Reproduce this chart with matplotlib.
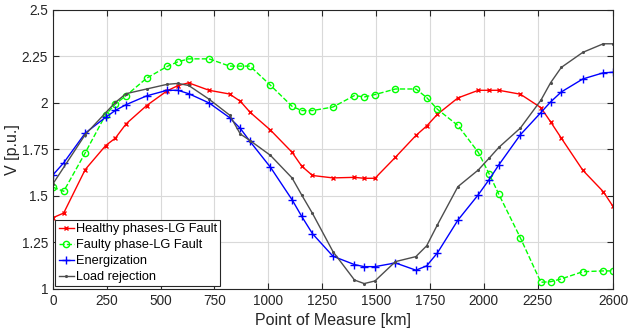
import numpy as np
import matplotlib
matplotlib.use("Agg")
import matplotlib.pyplot as plt

plt.rcParams["font.family"] = ["Liberation Sans", "DejaVu Sans"]

# measurement points [km]
x_pts = [0, 50, 150, 245, 290, 340, 435, 530, 580, 630, 725, 820, 870, 915,
         1010, 1110, 1155, 1205, 1300, 1400, 1445, 1495, 1590, 1685, 1735,
         1785, 1880, 1975, 2025, 2070, 2170, 2265, 2310, 2360, 2460, 2555, 2600]

healthy = [1.383, 1.408, 1.642, 1.771, 1.811, 1.888, 1.986, 2.065, 2.093, 2.108,
           2.068, 2.048, 2.009, 1.950, 1.854, 1.735, 1.660, 1.610, 1.597, 1.600,
           1.595, 1.595, 1.708, 1.825, 1.876, 1.939, 2.027, 2.068, 2.068, 2.068,
           2.047, 1.975, 1.899, 1.811, 1.638, 1.523, 1.444]

faulty = [1.547, 1.525, 1.732, 1.937, 1.994, 2.040, 2.133, 2.196, 2.221, 2.237,
          2.237, 2.198, 2.198, 2.198, 2.095, 1.982, 1.959, 1.959, 1.978, 2.040,
          2.032, 2.045, 2.075, 2.075, 2.029, 1.966, 1.879, 1.734, 1.619, 1.509,
          1.275, 1.036, 1.039, 1.054, 1.093, 1.097, 1.097]

energ = [1.613, 1.678, 1.838, 1.923, 1.960, 1.991, 2.038, 2.068, 2.068, 2.050,
         2.000, 1.921, 1.863, 1.793, 1.654, 1.480, 1.390, 1.297, 1.176, 1.131,
         1.120, 1.120, 1.140, 1.101, 1.124, 1.194, 1.370, 1.507, 1.588, 1.667,
         1.829, 1.948, 2.005, 2.059, 2.129, 2.162, 2.165]

x_load = [0, 150, 290, 340, 435, 530, 580, 630, 725, 820, 870, 915, 1010, 1110,
          1155, 1205, 1300, 1400, 1445, 1495, 1590, 1685, 1735, 1785, 1880,
          1975, 2025, 2070, 2170, 2265, 2310, 2360, 2460, 2555, 2600]
load = [1.565, 1.830, 2.003, 2.050, 2.075, 2.100, 2.105, 2.094, 2.020, 1.935,
        1.833, 1.798, 1.718, 1.597, 1.505, 1.406, 1.201, 1.048, 1.029, 1.043,
        1.147, 1.174, 1.232, 1.345, 1.550, 1.640, 1.703, 1.761, 1.865, 2.014,
        2.108, 2.191, 2.272, 2.318, 2.318]

fig = plt.figure(figsize=(6.3, 3.31), dpi=100)
ax = fig.add_axes([0.084, 0.127, 0.889, 0.843])

ax.plot(x_pts, healthy, color="red", marker="x", ms=3.5, lw=1, mew=1,
        label="Healthy phases-LG Fault")
ax.plot(x_pts, faulty, color="#00ff00", marker="o", ms=4.5, lw=1, ls="--",
        mfc="none", mew=1, label="Faulty phase-LG Fault")
ax.plot(x_pts, energ, color="blue", marker="+", ms=5.5, lw=1, mew=1,
        label="Energization")
ax.plot(x_load, load, color="#4d4d4d", marker=".", ms=2.5, lw=1,
        label="Load rejection")

ax.set_xlim(0, 2600)
ax.set_ylim(1, 2.5)
ax.set_xticks([0, 250, 500, 750, 1000, 1250, 1500, 1750, 2000, 2250, 2600])
ax.set_yticks([1, 1.25, 1.5, 1.75, 2, 2.25, 2.5])
ax.set_yticklabels(["1", "1.25", "1.5", "1.75", "2", "2.25", "2.5"])
ax.grid(True, color="#d9d9d9", lw=0.8)
ax.set_axisbelow(True)
ax.tick_params(direction="in", top=True, right=True, labelsize=9.8,
               colors="#262626", length=4)
for s in ax.spines.values():
    s.set_color("#262626")
    s.set_linewidth(0.8)

ax.set_xlabel("Point of Measure [km]", fontsize=11.5, color="#262626", labelpad=4)
ax.set_ylabel("V [p.u.]", fontsize=11.5, color="#262626")
ax.yaxis.set_label_coords(-0.059, 0.5)

leg = ax.legend(loc="lower left", fontsize=9.2, handlelength=1.2,
                handletextpad=0.15, borderpad=0.25, labelspacing=0.31,
                borderaxespad=0.2, fancybox=False, framealpha=1)
leg.get_frame().set_edgecolor("#262626")
leg.get_frame().set_linewidth(0.8)

fig.savefig("out.png", dpi=100)
